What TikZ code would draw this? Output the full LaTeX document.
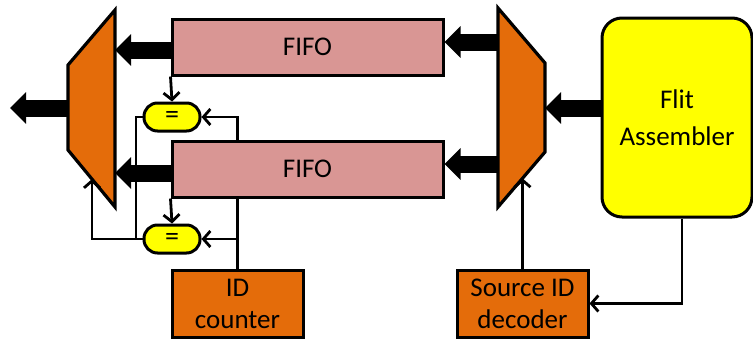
\documentclass[tikz,border=0pt]{standalone}
\usepackage{fontspec}
\setmainfont{Carlito}
\usetikzlibrary{arrows.meta,backgrounds,calc}
\definecolor{orng}{HTML}{E46C0A}
\definecolor{fifoc}{HTML}{D99694}
\definecolor{ylw}{HTML}{FFFF00}
\begin{document}
\begin{tikzpicture}[x=1pt,y=-1pt,
 box/.style={draw=black,line width=3pt,inner sep=0pt},
 fifobox/.style={box,fill=fifoc,minimum width=271pt,minimum height=56pt,font=\fontsize{27}{33}\selectfont},
 ctrlbox/.style={box,fill=orng,minimum width=131pt,minimum height=67pt,align=center,font=\fontsize{27}{32}\selectfont},
 eqbox/.style={box,fill=ylw,rounded corners=13.5pt,minimum width=56pt,minimum height=28pt,font=\fontsize{28}{28}\selectfont},
 fabox/.style={box,fill=ylw,rounded corners=20pt,minimum width=150pt,minimum height=199pt,align=center,font=\fontsize{27}{37}\selectfont},
 bus/.style={line width=17pt,-{Triangle[width=31pt,length=16pt]}},
 wire/.style={line width=2.8pt,-{Straight Barb[length=7pt,width=16pt]}},
 wireplain/.style={line width=2.8pt},
 muxshape/.style={draw=black,fill=orng,line width=3.2pt,line join=miter}]
\useasboundingbox (0,0) rectangle (753,340);
% muxes
\draw[muxshape] (68,65) -- (115,10) -- (115,207) -- (68,150) -- cycle;
\draw[muxshape] (498,8) -- (545,63) -- (545,152) -- (498,207) -- cycle;
\coordinate (lmo) at (68,108);
\coordinate (lmout) at (10,108);
\coordinate (lmi1) at (115,50);
\coordinate (lmi2) at (115,173);
\coordinate (lmsel) at (92,179);
\coordinate (rmo1) at (498,42);
\coordinate (rmo2) at (498,164);
\coordinate (rmi) at (545,108);
\coordinate (rmsel) at (522.5,178.3);
% nodes
\node[fifobox] (fifo1) at (307.5,47) {FIFO};
\node[fifobox] (fifo2) at (307.5,169) {FIFO};
\node[eqbox] (eq1) at (172,117) {=};
\node[eqbox] (eq2) at (172,239) {=};
\node[ctrlbox] (counter) at (237.5,303.5) {ID\\counter};
\node[ctrlbox] (dec) at (522.5,303.5) {Source ID\\decoder};
\node[fabox] (fa) at (677,117.5) {Flit\\Assembler};
\coordinate (fas) at ($(fa.south)+(5,0)$);
\coordinate (j) at (136,239);
% buses
\draw[bus] (lmo) -- (lmout);
\draw[bus] (fifo1.west |- lmi1) -- (lmi1);
\draw[bus] (fifo2.west |- lmi2) -- (lmi2);
\draw[bus] (rmo1) -- (fifo1.east |- rmo1);
\draw[bus] (rmo2) -- (fifo2.east |- rmo2);
\draw[bus] (fa.west |- rmi) -- (rmi);
% wires
\begin{pgfonlayer}{background}
\draw[wireplain,line cap=rect] (counter.north) -- (counter.north |- eq1.east);
\end{pgfonlayer}
\draw[wire] (counter.north |- eq1.east) -- (eq1.east);
\draw[wire] (counter.north |- eq2.east) -- (eq2.east);
\draw[wire] (fifo1.south west) -- (eq1.north);
\draw[wire] (fifo2.south west) -- (eq2.north);
\draw[wireplain] (eq1.west) -| (j);
\draw[wire] (eq2.west) -| (lmsel);
\draw[wire] (dec.north) -- (rmsel);
\draw[wire] (fas) |- (dec.east);
\end{tikzpicture}
\end{document}
